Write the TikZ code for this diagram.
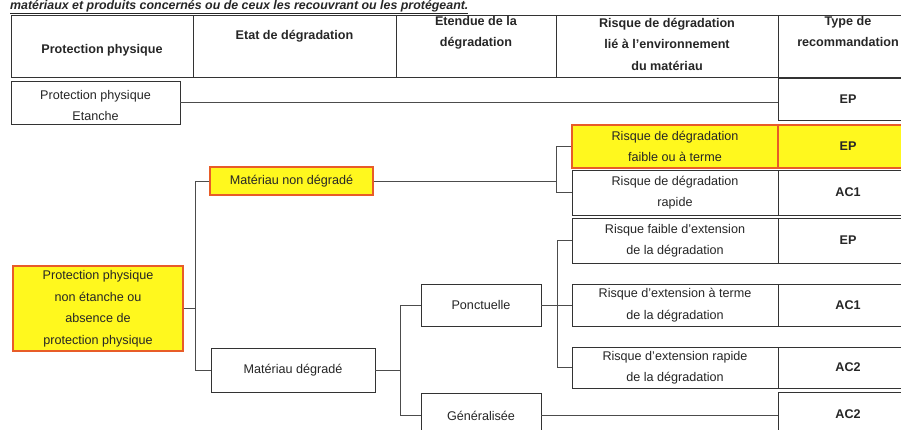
\documentclass[tikz,border=0pt]{standalone}
\usepackage{fontspec}
\setmainfont{Liberation Sans}
\usetikzlibrary{positioning}
\definecolor{hlfill}{RGB}{255,248,30}
\definecolor{hldraw}{RGB}{232,92,40}
\newcommand{\txtsize}{\fontsize{12.6}{21.5}\selectfont}
\begin{document}
\begin{tikzpicture}[
  x=1pt, y=-1pt,
  cell/.style={draw=black!80, line width=0.8pt, minimum height=62},
  hd/.style={font=\txtsize\bfseries, text=black!85, align=center, inner sep=0pt},
  box/.style={draw=black!80, line width=0.8pt, fill=white, align=center,
              inner sep=1pt, font=\txtsize, text=black!85},
  hl/.style={box, fill=hlfill, draw=hldraw, line width=1.2pt},
  rec/.style={box, font=\txtsize\bfseries, minimum width=140},
  link/.style={draw=black!70, line width=0.7pt}
]
  \useasboundingbox (0,0) rectangle (901,430);
  \clip (0,0) rectangle (901,430);

  % Titre (coupé en haut)
  \node[anchor=base west, inner sep=0pt, font=\fontsize{12.4}{14}\selectfont\bfseries\itshape,
        text=black!85] (titre) at (10,9.5)
    {\underline{matériaux et produits concernés ou de ceux les recouvrant ou les protégeant.}};

  % En-tête du tableau
  \node[cell, minimum width=182] (h1) at (102,46) {};
  \node[cell, minimum width=203] (h2) at (294.5,46) {};
  \node[cell, minimum width=160] (h3) at (476,46) {};
  \node[cell, minimum width=222] (h4) at (667,46) {};
  \node[cell, minimum width=140] (h5) at (848,46) {};
  \node[hd] (t1) at (102,50) {Protection physique};
  \node[hd] (t2) at (294.5,36) {Etat de dégradation};
  \node[hd] (t3) at (476,33) {Etendue de la\\dégradation};
  \node[hd] (t4) at (667,44) {Risque de dégradation\\lié à l'environnement\\du matériau};
  \node[hd] (t5) at (848,31.5) {Type de\\recommandation};

  % Protection physique
  \node[box, minimum width=169, minimum height=43] (etanche) at (95.5,102.5)
    {\strut Protection physique\\Etanche};
  \node[hl, minimum width=170, minimum height=85] (nonetanche) at (98,308.5)
    {Protection physique\\non étanche ou\\absence de\\protection physique};

  % Etat de dégradation
  \node[hl, minimum width=163, minimum height=28] (nondeg) at (291.5,181) {Matériau non dégradé};
  \node[box, minimum width=164, minimum height=44] (degrade) at (293,370) {Matériau dégradé};

  % Etendue
  \node[box, minimum width=120, minimum height=42] (ponct) at (481,305) {Ponctuelle};
  \node[box, minimum width=120, minimum height=45] (gener) at (481,415.5) {Généralisée};

  % Risque lié à l'environnement
  \node[hl, minimum width=206, minimum height=43] (faible) at (675,146.5)
    {Risque de dégradation\\faible ou à terme};
  \node[box, minimum width=206, minimum height=45] (rapide) at (675,192.5)
    {Risque de dégradation\\rapide};
  \node[box, minimum width=206, minimum height=45] (faibleext) at (675,240.5)
    {Risque faible d'extension\\de la dégradation};
  \node[box, minimum width=206, minimum height=42] (terme) at (675,305)
    {Risque d'extension à terme\\de la dégradation};
  \node[box, minimum width=206, minimum height=41] (extrapide) at (675,367.5)
    {Risque d'extension rapide\\de la dégradation};

  % Type de recommandation
  \node[rec, minimum height=42] (ep1) at (848,99) {EP};
  \node[rec, hl, font=\txtsize\bfseries, minimum height=43] (ep2) at (848,146.5) {EP};
  \node[rec, minimum height=45] (ac1a) at (848,192.5) {AC1};
  \node[rec, minimum height=45] (ep3) at (848,240.5) {EP};
  \node[rec, minimum height=42] (ac1b) at (848,305) {AC1};
  \node[rec, minimum height=41] (ac2a) at (848,367.5) {AC2};
  \node[rec, minimum height=45] (ac2b) at (848,414.5) {AC2};

  % Accolades
  \coordinate (b1) at (195,308.5);
  \coordinate (b2) at (556,181);
  \coordinate (b3) at (400,370);
  \coordinate (b4) at (557,305);

  % Liaisons
  \draw[link] (etanche.east) -- (etanche.east -| ep1.west);
  \draw[link] (nonetanche.east) -- (b1);
  \draw[link] (nondeg.west) -| (b1);
  \draw[link] (degrade.west) -| (b1);
  \draw[link] (nondeg.east) -- (b2);
  \draw[link] (faible.west) -| (b2);
  \draw[link] (rapide.west) -| (b2);
  \draw[link] (degrade.east) -- (b3);
  \draw[link] (ponct.west) -| (b3);
  \draw[link] (gener.west) -| (b3);
  \draw[link] (ponct.east) -- (b4);
  \draw[link] (faibleext.west) -| (b4);
  \draw[link] (terme.west) -| (b4);
  \draw[link] (extrapide.west) -| (b4);
  \draw[link] (gener.east) -- (gener.east -| ac2b.west);
\end{tikzpicture}
\end{document}
